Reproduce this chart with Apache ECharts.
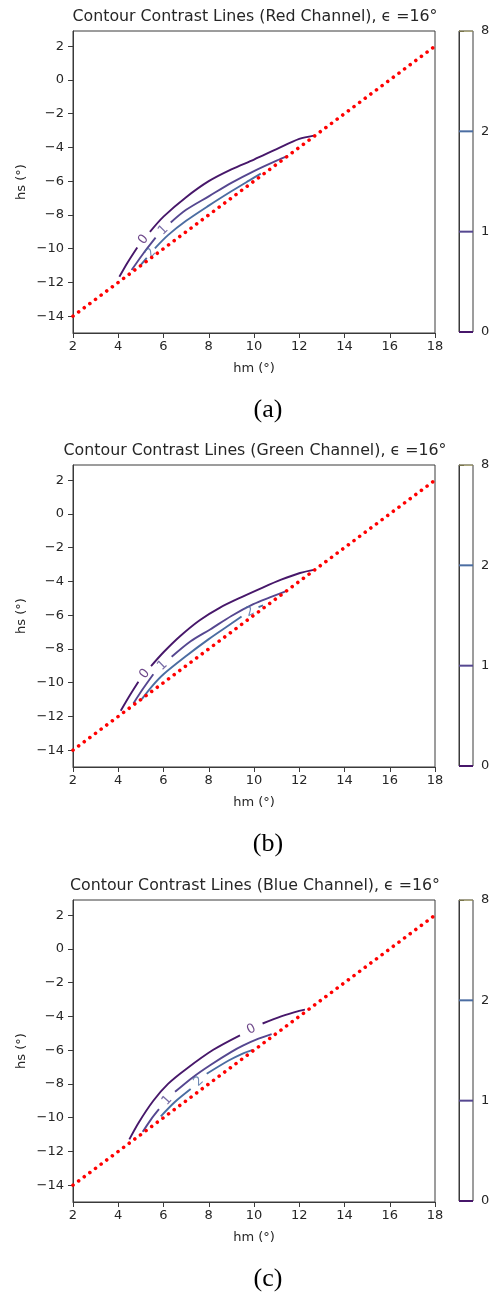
<!DOCTYPE html>
<html>
<head>
<meta charset="utf-8">
<script src="https://cdn.jsdelivr.net/npm/echarts@6/dist/echarts.min.js"></script>
<style>
html, body { margin: 0; padding: 0; background: #fff; }
#content { width: 496px; height: 1293px; }
</style>
</head>
<body>
<div id="content"></div>
<script>
var myChart = echarts.init(document.getElementById('content'));

// ticks
var xTicks = [2, 4, 6, 8, 10, 12, 14, 16, 18];
var yTicks = [-14, -12, -10, -8, -6, -4, -2, 0, 2];
var barLevels = ['0', '1', '2', '8'];
var panelNames = ['Red', 'Green', 'Blue'];
var captions = ['(a)', '(b)', '(c)'];

// hs = hm - 16 (red dotted line)
var limitLine = [[2, -14], [18, 2]];

// contour lines, null = gap for the inline label
var red0 = [[4.05, -11.67], [4.4, -10.85], [4.84, -9.93], null, [5.40, -9.0], [6.0, -8.1], [7.0, -6.95], [8.0, -6.0], [9.0, -5.3], [10.0, -4.72], [11.0, -4.1], [12.0, -3.5], [12.65, -3.3]];
var red1 = [[4.59, -11.27], [5.1, -10.3], [5.65, -9.35], null, [6.32, -8.45], [7.0, -7.7], [8.0, -6.9], [9.0, -6.1], [10.0, -5.4], [11.0, -4.78], [11.5, -4.5]];
var red2 = [[4.96, -11.02], [5.26, -10.55], null, [5.62, -9.98], [6.2, -9.2], [7.0, -8.35], [8.0, -7.45], [9.0, -6.6], [9.8, -5.95], [10.3, -5.55]];

var green0 = [[4.11, -11.67], [4.5, -10.78], [4.89, -9.95], null, [5.45, -9.02], [6.0, -8.2], [6.73, -7.25], [7.6, -6.3], [8.5, -5.55], [9.5, -4.9], [10.41, -4.35], [11.2, -3.9], [12.03, -3.5], [12.7, -3.3]];
var green1 = [[4.67, -11.23], [5.1, -10.35], [5.55, -9.5], null, [6.36, -8.47], [7.2, -7.55], [8.06, -6.85], [9.0, -6.05], [9.97, -5.35], [10.7, -4.95], [11.37, -4.6]];
var green2 = [[5.04, -10.98], [5.5, -10.2], [6.0, -9.5], [7.0, -8.42], [8.0, -7.42], [9.0, -6.5], [9.45, -6.08], null, [10.2, -5.52], [10.4, -5.42]];

var blue0 = [[4.49, -11.29], [4.9, -10.3], [5.55, -9.0], [6.2, -8.0], [7.02, -7.1], [8.2, -5.98], [9.38, -5.12], null, [10.38, -4.42], [11.2, -4.0], [12.0, -3.67], [12.25, -3.6]];
var blue1 = [[5.08, -10.84], [5.45, -10.1], [5.8, -9.5], null, [6.51, -8.47], [7.3, -7.6], [8.06, -6.89], [9.0, -6.1], [9.53, -5.72], [10.2, -5.32], [10.78, -5.05]];
var blue2 = [[5.88, -9.92], [6.5, -9.07], [7.2, -8.3], null, [7.91, -7.4], [8.9, -6.6], [9.5, -6.2], [9.94, -5.98]];

var panels = [[red0, red1, red2], [green0, green1, green2], [blue0, blue1, blue2]];

var levelColors = ['#47176a', '#554790', '#4b6da2', '#b5ad5c'];
var textColor = '#262626';
var font = 'DejaVu Sans';

var offsets = [0, 434, 869];
var plotLeft = 73, plotTop = 31, plotW = 362, plotH = 302;
var xMin = 2, xMax = 18, yMin = -15, yMax = 2.9;
var kx = plotW / (xMax - xMin), ky = plotH / (yMax - yMin);

function fmt(v) { return String(v).replace('-', '\u2212'); }

var grid = [], xAxis = [], yAxis = [], series = [], graphic = [];

offsets.forEach(function (o, p) {
    var gi = grid.length;
    grid.push({ left: plotLeft, top: plotTop + o, width: plotW, height: plotH, show: true, borderColor: '#3a3a3a', borderWidth: 1, backgroundColor: '#fff' });
    xAxis.push({
        type: 'value', gridIndex: gi, min: xMin, max: xMax, interval: 2,
        axisLine: { show: true, onZero: false, lineStyle: { color: '#3a3a3a' } },
        axisTick: { show: true, length: 5, lineStyle: { color: '#3a3a3a' } },
        axisLabel: { color: textColor, fontFamily: font, fontSize: 13, margin: 7 },
        splitLine: { show: false }
    });
    yAxis.push({
        type: 'value', gridIndex: gi, min: yMin, max: yMax,
        axisLine: { show: true, onZero: false, lineStyle: { color: '#3a3a3a' } },
        axisTick: { show: true, length: 5, customValues: yTicks, lineStyle: { color: '#3a3a3a' } },
        axisLabel: { color: textColor, fontFamily: font, fontSize: 13, margin: 9, customValues: yTicks, formatter: fmt },
        splitLine: { show: false }
    });

    // contour lines + inline labels
    panels[p].forEach(function (curve, lv) {
        series.push({
            type: 'line', xAxisIndex: gi, yAxisIndex: gi, symbol: 'none', silent: true, z: 2,
            smooth: 0.3,
            data: curve.map(function (pt) { return pt ? pt : ['-', '-']; }),
            lineStyle: { color: levelColors[lv], width: 1.9 }
        });
        var labels = [];
        curve.forEach(function (pt, i) {
            if (pt === null) {
                var a = curve[i - 1], b = curve[i + 1];
                var ang = Math.atan2((b[1] - a[1]) * ky, (b[0] - a[0]) * kx) * 180 / Math.PI;
                labels.push({ value: [(a[0] + b[0]) / 2, (a[1] + b[1]) / 2], label: { rotate: ang } });
            }
        });
        series.push({
            type: 'scatter', xAxisIndex: gi, yAxisIndex: gi, symbolSize: 1, silent: true, z: 3,
            itemStyle: { color: 'rgba(0,0,0,0)' },
            label: { show: true, position: 'inside', formatter: String(lv), color: levelColors[lv], fontFamily: font, fontSize: 13 },
            data: labels
        });
    });

    series.push({
        type: 'line', xAxisIndex: gi, yAxisIndex: gi, symbol: 'none', silent: true, z: 4,
        data: limitLine,
        lineStyle: { color: '#ff0000', width: 3.6, type: [0.01, 7], cap: 'round' }
    });

    // colorbar
    var ci = grid.length;
    grid.push({ left: 459, top: plotTop + o, width: 14, height: 301, show: true, borderColor: '#3a3a3a', borderWidth: 1 });
    xAxis.push({ type: 'value', gridIndex: ci, min: 0, max: 1, show: false });
    yAxis.push({
        type: 'category', gridIndex: ci, data: barLevels, boundaryGap: false, position: 'right',
        axisLine: { show: true, lineStyle: { color: '#3a3a3a' } },
        axisTick: { show: true, length: 5, lineStyle: { color: '#3a3a3a' } },
        axisLabel: { color: textColor, fontFamily: font, fontSize: 13, margin: 8 },
        splitLine: { show: false }
    });
    barLevels.forEach(function (lvName, k) {
        series.push({
            type: 'line', xAxisIndex: ci, yAxisIndex: ci, symbol: 'none', silent: true,
            data: [[0, lvName], [1, lvName]],
            lineStyle: { color: levelColors[k], width: k === 3 ? 1.2 : 2 }
        });
    });

    graphic.push({
        type: 'text', x: 255, y: 17 + o,
        style: { text: 'Contour Contrast Lines (' + panelNames[p] + ' Channel), \u03f5 =16\u00b0', font: '15.8px "DejaVu Sans"', fill: textColor, textAlign: 'center', textVerticalAlign: 'middle', align: 'center', verticalAlign: 'middle' }
    });
    graphic.push({
        type: 'text', x: 254, y: 369 + o,
        style: { text: 'hm (\u00b0)', font: '13px "DejaVu Sans"', fill: textColor, textAlign: 'center', textVerticalAlign: 'middle', align: 'center', verticalAlign: 'middle' }
    });
    graphic.push({
        type: 'text', x: 22, y: 182 + o, rotation: Math.PI / 2,
        style: { text: 'hs (\u00b0)', font: '13px "DejaVu Sans"', fill: textColor, textAlign: 'center', textVerticalAlign: 'middle', align: 'center', verticalAlign: 'middle' }
    });
    graphic.push({
        type: 'text', x: 268, y: 410 + o,
        style: { text: captions[p], font: '26px "Liberation Serif"', fill: '#000', textAlign: 'center', textVerticalAlign: 'middle', align: 'center', verticalAlign: 'middle' }
    });
});

var option = {
    backgroundColor: '#fff',
    animation: false,
    grid: grid,
    xAxis: xAxis,
    yAxis: yAxis,
    series: series,
    graphic: graphic
};
myChart.setOption(option);
</script>
</body>
</html>
